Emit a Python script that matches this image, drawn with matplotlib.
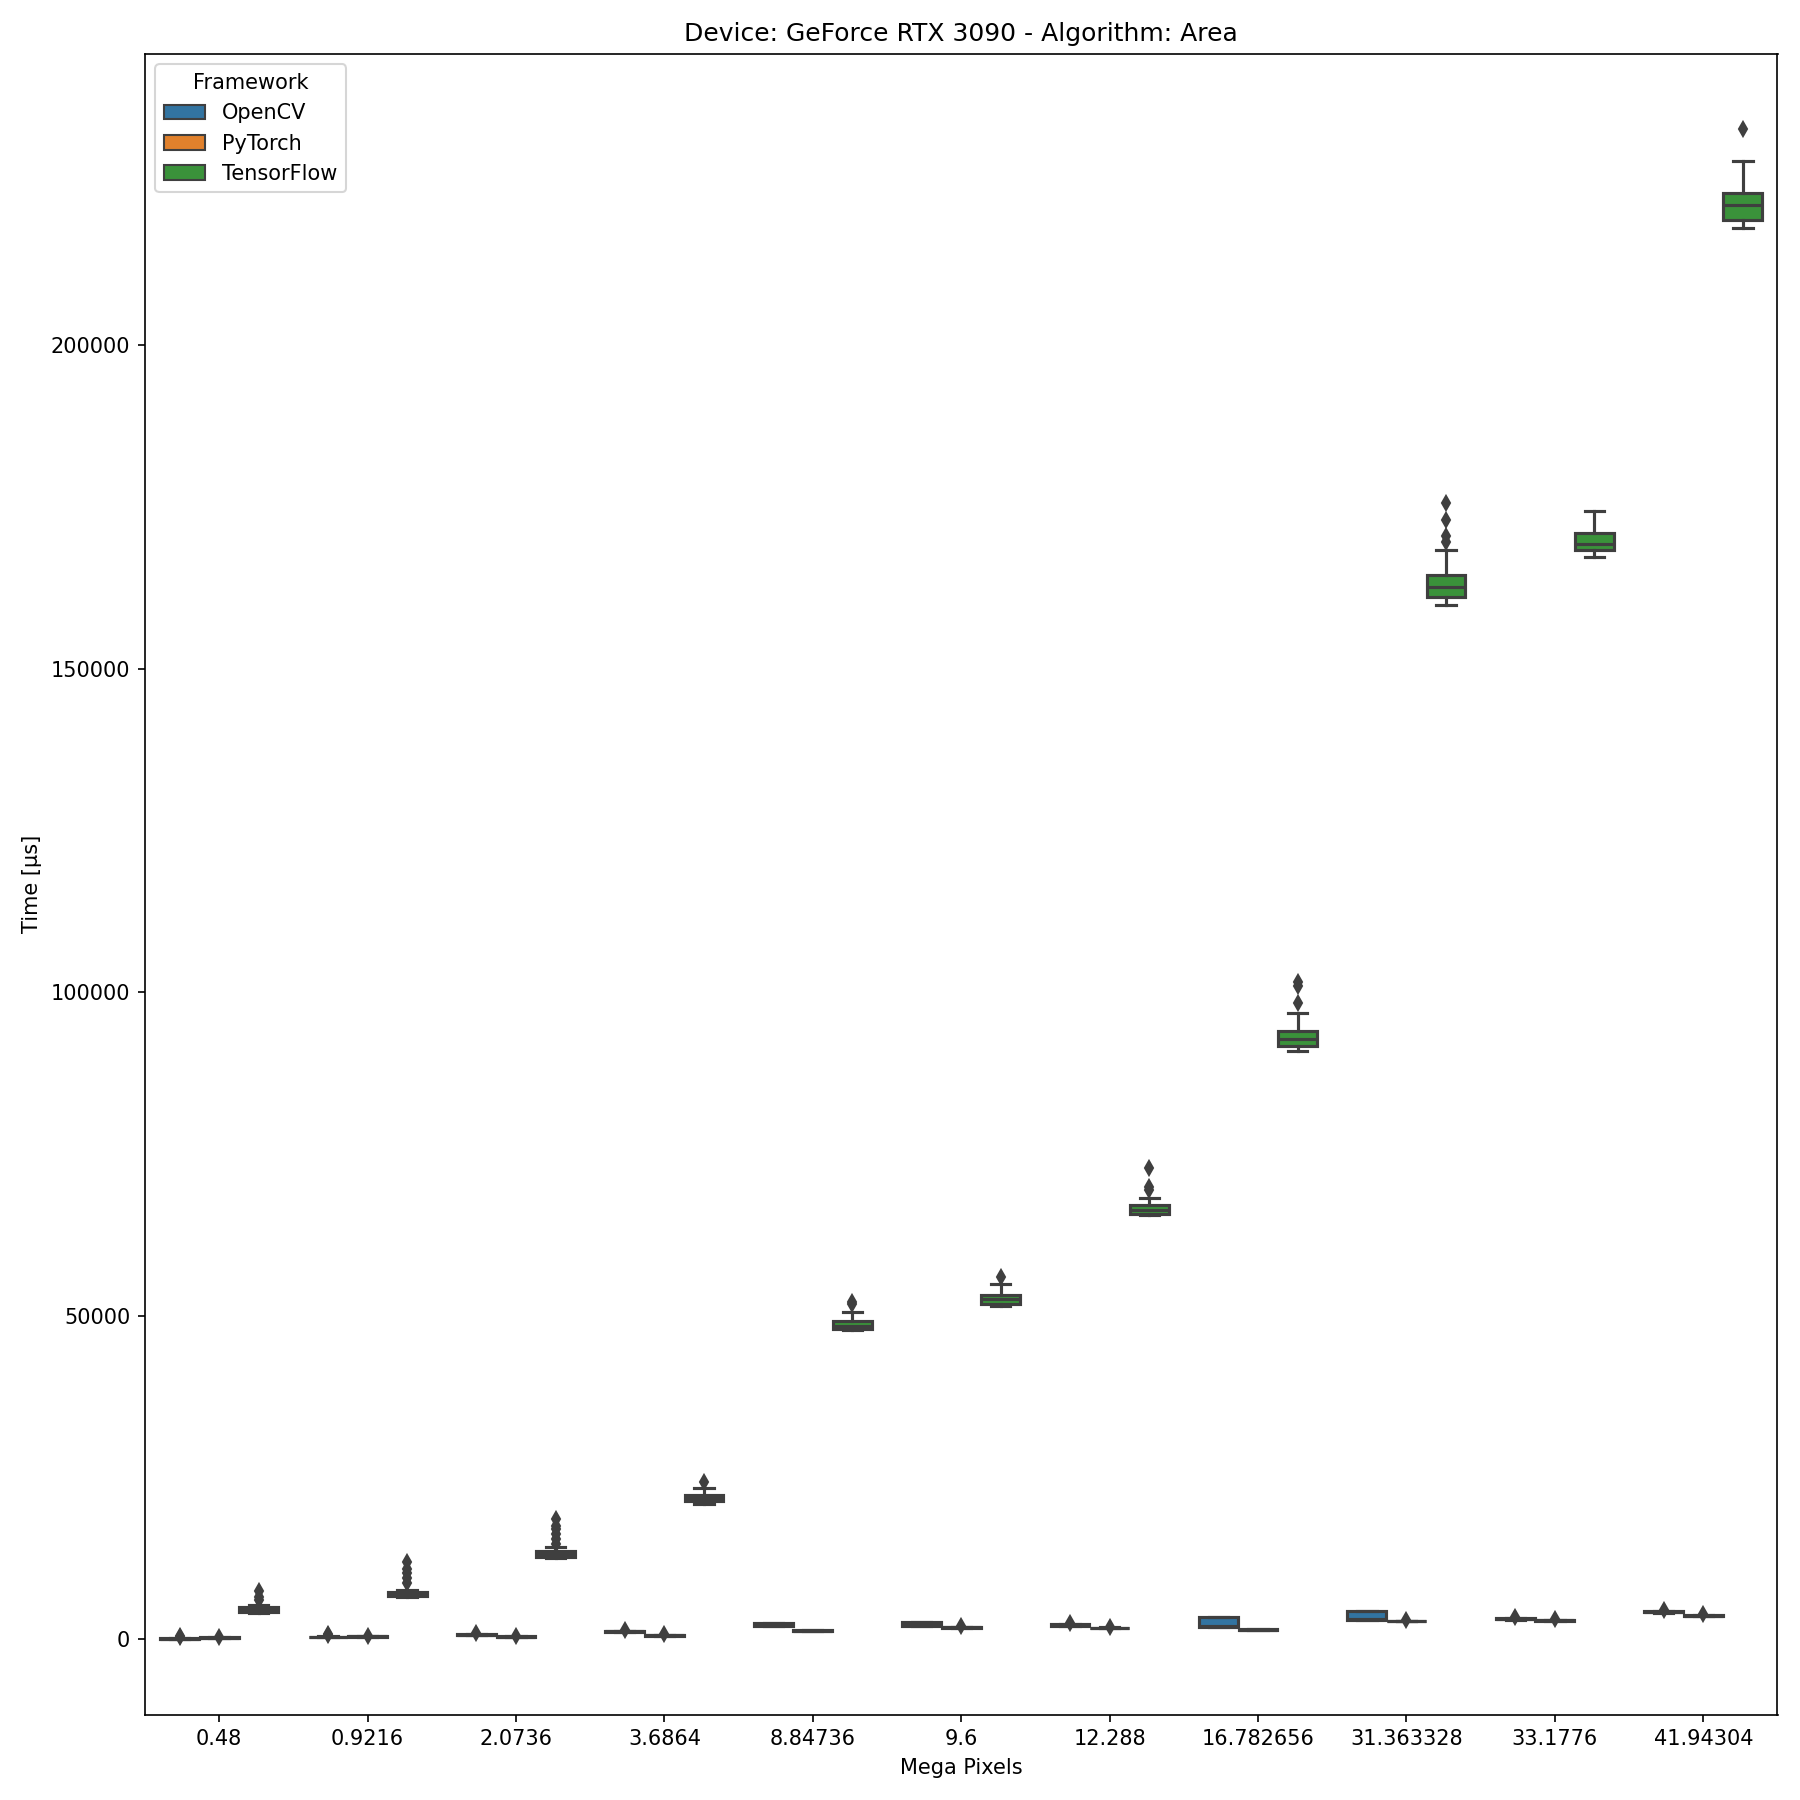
import matplotlib
matplotlib.use('Agg')
import matplotlib.pyplot as plt
from matplotlib.patches import Patch

# x categories (mega pixels)
mega_pixels = ['0.48', '0.9216', '2.0736', '3.6864', '8.84736', '9.6',
               '12.288', '16.782656', '31.363328', '33.1776', '41.94304']
frameworks = ['OpenCV', 'PyTorch', 'TensorFlow']

# box stats per framework (time in us)
opencv_q1 = [60, 300, 650, 1150, 2100, 2050, 2100, 1950, 3000, 3100, 4150]
opencv_med = [100, 340, 720, 1220, 2250, 2300, 2200, 2000, 3100, 3200, 4250]
opencv_q3 = [150, 400, 800, 1300, 2450, 2600, 2300, 3400, 4400, 3300, 4350]
opencv_lo = [30, 280, 600, 1100, 2050, 2000, 2050, 1900, 2950, 3050, 4100]
opencv_hi = [250, 480, 850, 1350, 2500, 2650, 2400, 3450, 4450, 3350, 4400]
opencv_fliers = [[380, 450], [700, 880], [950], [1450], [], [],
                 [2500], [], [], [3450], [4500]]

pytorch_q1 = [220, 420, 370, 580, 1300, 1800, 1700, 1450, 2780, 2880, 3600]
pytorch_med = [260, 460, 410, 620, 1340, 1850, 1750, 1500, 2830, 2940, 3660]
pytorch_q3 = [300, 500, 450, 660, 1380, 1900, 1800, 1550, 2880, 3000, 3720]
pytorch_lo = [200, 400, 350, 560, 1280, 1780, 1680, 1430, 2760, 2860, 3580]
pytorch_hi = [330, 520, 480, 690, 1400, 1930, 1830, 1570, 2900, 3020, 3740]
pytorch_fliers = [[400], [580], [560], [760], [], [2100],
                  [1950], [], [3050], [3150], [3900]]

tf_q1 = [4260, 6750, 12790, 21310, 47950, 51860, 65710, 91640, 161080, 168370, 219340]
tf_med = [4620, 6930, 13140, 21850, 48490, 52570, 66420, 92710, 162680, 169250, 221650]
tf_q3 = [4970, 7280, 13680, 22380, 49200, 53280, 67130, 93950, 164460, 171030, 223600]
tf_lo = [4090, 6570, 12610, 20960, 47770, 51500, 65540, 90930, 159840, 167300, 218090]
tf_hi = [5330, 7640, 14210, 23440, 50620, 54880, 68200, 96790, 168370, 174400, 228570]
tf_fliers = [[6040, 6570, 7460],
             [8700, 9410, 10300, 10830, 11900],
             [14740, 15450, 16340, 17050, 17580, 18650],
             [24330],
             [51860, 52210],
             [55940],
             [69440, 69970, 72820],
             [98390, 101050, 101590],
             [169610, 170500, 172980, 175650],
             [],
             [233370]]

colours = ['#3274a1', '#e1812c', '#3a923a']
gray = '#3f3f3f'

series = [
    (opencv_q1, opencv_med, opencv_q3, opencv_lo, opencv_hi, opencv_fliers),
    (pytorch_q1, pytorch_med, pytorch_q3, pytorch_lo, pytorch_hi, pytorch_fliers),
    (tf_q1, tf_med, tf_q3, tf_lo, tf_hi, tf_fliers),
]

fig, ax = plt.subplots(figsize=(12, 12), dpi=150)

group_width = 0.8
each_width = group_width / len(frameworks)
offsets = [(k - 1) * each_width for k in range(len(frameworks))]

for k, (q1, med, q3, lo, hi, fl) in enumerate(series):
    stats = []
    for i in range(len(mega_pixels)):
        stats.append({'q1': q1[i], 'med': med[i], 'q3': q3[i],
                      'whislo': lo[i], 'whishi': hi[i], 'fliers': fl[i]})
    pos = [i + offsets[k] for i in range(len(mega_pixels))]
    ax.bxp(stats, positions=pos, widths=each_width * 0.98, patch_artist=True,
           boxprops=dict(facecolor=colours[k], edgecolor=gray, linewidth=1.5),
           medianprops=dict(color=gray, linewidth=1.5),
           whiskerprops=dict(color=gray, linewidth=1.5),
           capprops=dict(color=gray, linewidth=1.5),
           flierprops=dict(marker='d', markersize=5, markerfacecolor=gray,
                           markeredgecolor=gray))

ax.set_xticks(range(len(mega_pixels)))
ax.set_xticklabels(mega_pixels)
ax.set_xlim(-0.5, len(mega_pixels) - 0.5)
ax.set_xlabel('Mega Pixels')
ax.set_ylabel('Time [µs]')
ax.set_title('Device: GeForce RTX 3090 - Algorithm: Area')

handles = [Patch(facecolor=c, edgecolor=gray, label=f) for c, f in zip(colours, frameworks)]
ax.legend(handles=handles, title='Framework', loc='upper left')

plt.tight_layout()
plt.savefig('out.png')
